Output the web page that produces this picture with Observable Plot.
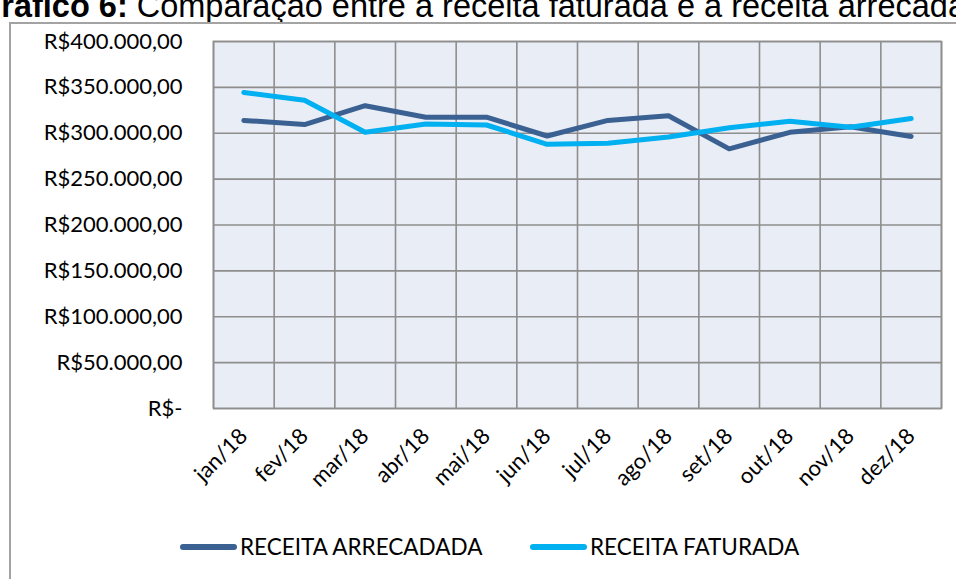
<!DOCTYPE html>
<html><head><meta charset="utf-8">
<script src="https://cdn.jsdelivr.net/npm/d3@7"></script>
<script src="https://cdn.jsdelivr.net/npm/@observablehq/plot@0.6"></script>
<style>
body{margin:0;width:956px;height:579px;overflow:hidden;position:relative;background:#fff;font-family:Lato,sans-serif;}
#title{position:absolute;left:-24px;top:-10px;white-space:nowrap;font:32.5px/32px "Liberation Sans",Arial,sans-serif;color:#000;}
#box{position:absolute;left:9px;top:22px;width:2000px;height:2000px;border-left:2px solid #A3A3A3;border-top:2px solid #A3A3A3;pointer-events:none;}
#chart{position:absolute;left:0;top:0;}
#legend{position:absolute;left:0;top:533px;width:956px;height:30px;font:22.5px Lato,sans-serif;color:#000;white-space:nowrap;}
.item{position:absolute;top:0;display:flex;align-items:center;}
.sw{width:57px;height:6px;border-radius:3px;margin-right:3px;}
</style></head>
<body>
<div id="title"><b>Gráfico 6:</b> Comparação entre a receita faturada e a receita arrecadada</div>
<div id="box"></div>
<div id="chart"></div>
<div id="legend"></div>
<script>
const months = ["jan/18","fev/18","mar/18","abr/18","mai/18","jun/18","jul/18","ago/18","set/18","out/18","nov/18","dez/18"];
const arrecadada = [314000, 309500, 330000, 317500, 317500, 297000, 314000, 319000, 283000, 301000, 307000, 296500];
const faturada = [344500, 336000, 301000, 310000, 309000, 288000, 289000, 296000, 306000, 313000, 306500, 316000];
const yTicks = [0, 50000, 100000, 150000, 200000, 250000, 300000, 350000, 400000];
const seriesNames = ["RECEITA ARRECADADA", "RECEITA FATURADA"];
const seriesColors = ["#3A6192", "#00B0F0"];
const legendLeft = [180, 530];

const locale = d3.formatLocale({decimal: ",", thousands: ".", grouping: [3], currency: ["R$", ""]});
const money = locale.format("$,.2f");
const fmtY = v => v === 0 ? "R$-" : money(v);

const idx = months.map((_, i) => i);
const bounds = months.map((_, i) => i - 0.5).concat([months.length - 0.5]);
const rows = [];
[arrecadada, faturada].forEach((arr, s) => arr.forEach((v, i) => rows.push({s: seriesNames[s], i, v})));

const chart = Plot.plot({
  width: 956, height: 500,
  marginLeft: 213, marginRight: 15, marginTop: 41, marginBottom: 92,
  style: {background: "transparent", fontFamily: "Lato, sans-serif", fontSize: "22px", color: "#000"},
  x: {type: "linear", domain: [-0.5, months.length - 0.5], ticks: idx, tickFormat: i => months[i], tickRotate: -45, tickSize: 0, tickPadding: 24, label: null},
  y: {domain: [0, 400000], ticks: yTicks, tickFormat: fmtY, tickSize: 0, tickPadding: 31, label: null},
  color: {domain: seriesNames, range: seriesColors},
  marks: [
    Plot.frame({fill: "#E9EDF5"}),
    Plot.ruleY(yTicks, {stroke: "#8E8E8E", strokeWidth: 1.6}),
    Plot.ruleX(bounds, {stroke: "#8E8E8E", strokeWidth: 1.6}),
    Plot.line(rows, {x: "i", y: "v", z: "s", stroke: "s", strokeWidth: 5, strokeLinejoin: "round", strokeLinecap: "round"}),
    Plot.frame({stroke: "#8E8E8E", strokeWidth: 1.6})
  ]
});
document.getElementById("chart").appendChild(chart);

const leg = document.getElementById("legend");
seriesNames.forEach((n, k) => {
  const it = document.createElement("div"); it.className = "item"; it.style.left = legendLeft[k] + "px";
  const sw = document.createElement("div"); sw.className = "sw"; sw.style.background = seriesColors[k];
  const t = document.createElement("span"); t.textContent = n;
  it.appendChild(sw); it.appendChild(t); leg.appendChild(it);
});
</script>
</body></html>
